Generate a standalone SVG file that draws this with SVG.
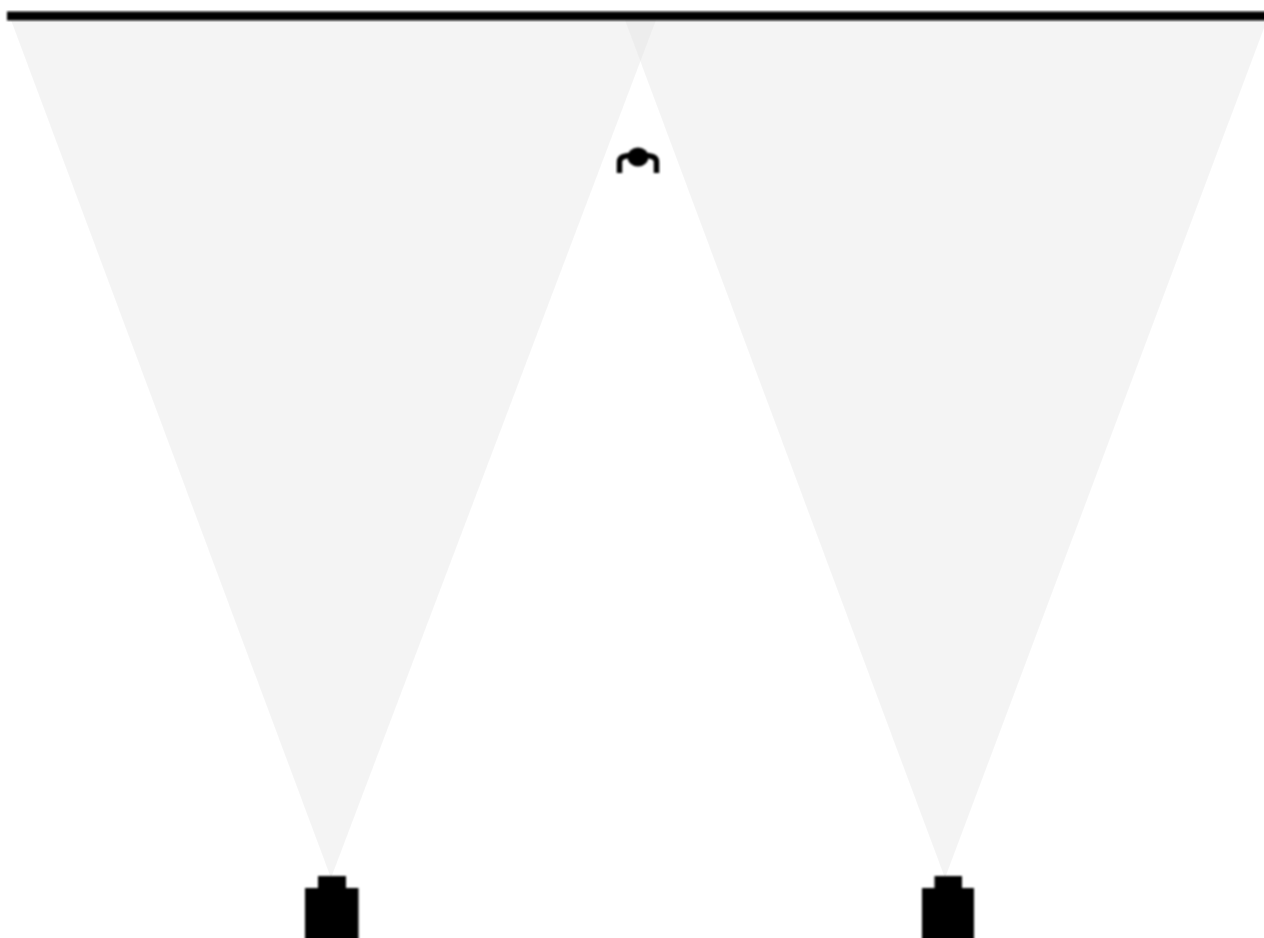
<svg xmlns="http://www.w3.org/2000/svg" width="1264" height="938" viewBox="0 0 1264 938">
  <defs>
    <style>
      .beam { fill: #e4e4e4; fill-opacity: 0.4; }
      .solid { fill: #000; }
    </style>
    <filter id="soft" x="-10%" y="-10%" width="120%" height="120%"><feGaussianBlur stdDeviation="0.9"/></filter>
  </defs>
  <rect width="1264" height="938" fill="#fff"/>
  <g id="beams">
    <polygon id="beam-left" class="beam" points="11,20 656,20 331,878"/>
    <polygon id="beam-right" class="beam" points="625,20 1267,20 945,878"/>
  </g>
  <g id="wall" filter="url(#soft)">
    <rect class="solid" x="7" y="11.500" width="1270" height="9"/>
  </g>
  <g id="person" filter="url(#soft)">
    <ellipse class="solid" cx="638" cy="157" rx="10.500" ry="9.500"/>
    <path d="M619.500 173 V162 Q619.500 157 626 156 L638 154 L650 156 Q656.500 157 656.500 162 V173" fill="none" stroke="#000" stroke-width="5.500"/>
  </g>
  <g id="camera-left" filter="url(#soft)">
    <path class="solid" d="M318 876 H346 V888 H358.500 V945 H305 V888 H318 Z"/>
  </g>
  <g id="camera-right" filter="url(#soft)">
    <path class="solid" d="M934.500 876 H962 V888 H974 V945 H922 V888 H934.500 Z"/>
  </g>
</svg>
